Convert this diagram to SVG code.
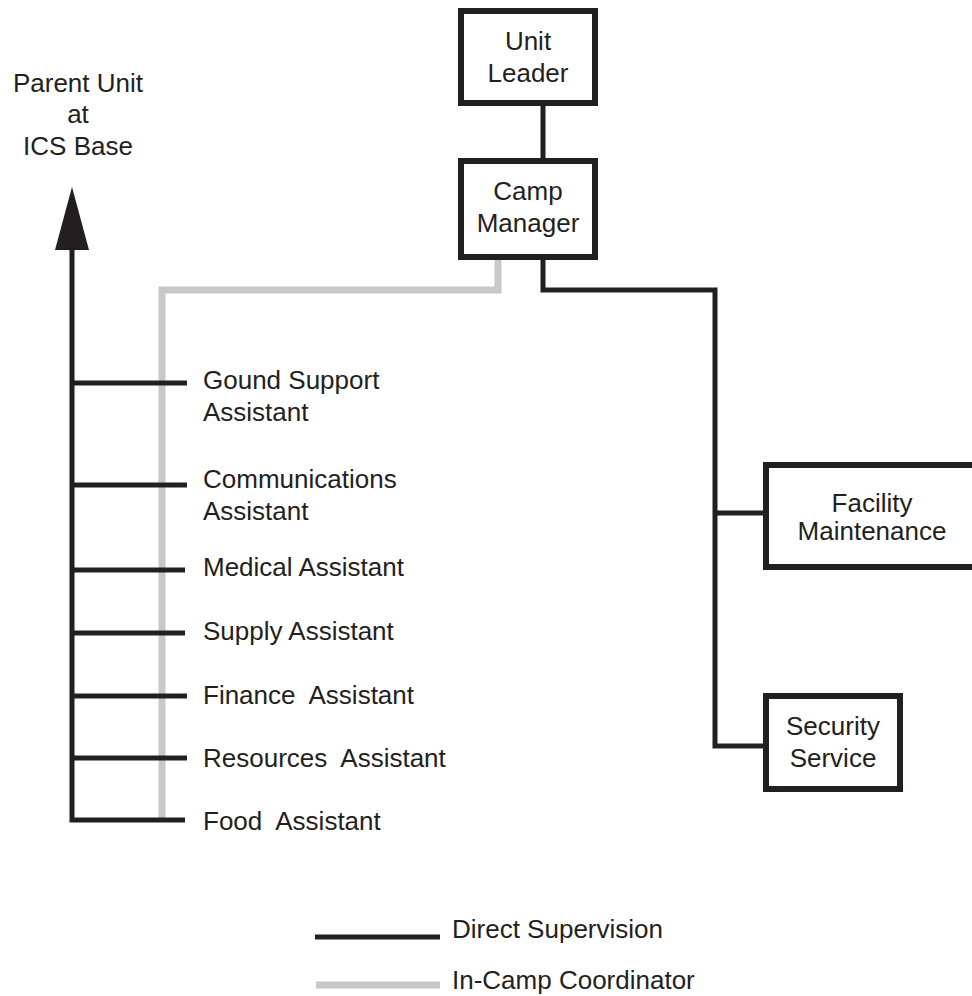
<svg xmlns="http://www.w3.org/2000/svg" width="972" height="996" viewBox="0 0 972 996">
  <style>
    .box { fill: #ffffff; stroke: #231f20; stroke-width: 6; }
    .sup { fill: none; stroke: #231f20; stroke-width: 5; stroke-linejoin: miter; }
    .coord { fill: none; stroke: #c7c8ca; stroke-width: 7; stroke-linejoin: miter; }
    text { font-family: "Liberation Sans", Arial, Helvetica, sans-serif; font-size: 26px; fill: #231f20; }
    .c { text-anchor: middle; }
  </style>

  <rect width="972" height="996" fill="#ffffff"/>

  <!-- connectors -->
  <g id="connectors">
    <!-- in-camp coordination line -->
    <polyline class="coord" points="498,260 498,290 162,290 162,820"/>
    <!-- unit leader to camp manager -->
    <line class="sup" x1="543" y1="103" x2="543" y2="161"/>
    <!-- camp manager to services -->
    <polyline class="sup" points="543,257 543,290 715,290 715,746 766,746"/>
    <line class="sup" x1="715" y1="513" x2="766" y2="513"/>
    <!-- reporting line to parent unit -->
    <polyline class="sup" points="72,248 72,820 185,820"/>
    <polygon points="72,187 89,250 55,250" fill="#231f20"/>
    <line class="sup" x1="72" y1="383" x2="187" y2="383"/>
    <line class="sup" x1="72" y1="485" x2="187" y2="485"/>
    <line class="sup" x1="72" y1="570" x2="185" y2="570"/>
    <line class="sup" x1="72" y1="633" x2="185" y2="633"/>
    <line class="sup" x1="72" y1="696" x2="187" y2="696"/>
    <line class="sup" x1="72" y1="758" x2="187" y2="758"/>
  </g>

  <g id="parent-unit">
    <text class="c" x="78" y="92">Parent Unit</text>
    <text class="c" x="78" y="123">at</text>
    <text class="c" x="78" y="155">ICS Base</text>
  </g>

  <g id="unit-leader">
    <rect class="box" x="461" y="11" width="134" height="92"/>
    <text class="c" x="528" y="50">Unit</text>
    <text class="c" x="528" y="82">Leader</text>
  </g>

  <g id="camp-manager">
    <rect class="box" x="461" y="161" width="134" height="96"/>
    <text class="c" x="528" y="200">Camp</text>
    <text class="c" x="528" y="232">Manager</text>
  </g>

  <g id="facility-maintenance">
    <rect class="box" x="766" y="465" width="210" height="102"/>
    <text class="c" x="872" y="512">Facility</text>
    <text class="c" x="872" y="540">Maintenance</text>
  </g>

  <g id="security-service">
    <rect class="box" x="766" y="696" width="134" height="93"/>
    <text class="c" x="833" y="735">Security</text>
    <text class="c" x="833" y="767">Service</text>
  </g>

  <g id="ground-support">
    <text x="203" y="389">Gound Support</text>
    <text x="203" y="421">Assistant</text>
  </g>
  <g id="communications">
    <text x="203" y="488">Communications</text>
    <text x="203" y="520">Assistant</text>
  </g>
  <g id="medical"><text x="203" y="576">Medical Assistant</text></g>
  <g id="supply"><text x="203" y="640">Supply Assistant</text></g>
  <g id="finance"><text x="203" y="704" xml:space="preserve">Finance  Assistant</text></g>
  <g id="resources"><text x="203" y="767" xml:space="preserve">Resources  Assistant</text></g>
  <g id="food"><text x="203" y="830" xml:space="preserve">Food  Assistant</text></g>

  <g id="legend">
    <line class="sup" x1="315" y1="937" x2="440" y2="937"/>
    <text x="452" y="938">Direct Supervision</text>
    <line class="coord" x1="316" y1="985" x2="440" y2="985"/>
    <text x="452" y="989">In-Camp Coordinator</text>
  </g>
</svg>
